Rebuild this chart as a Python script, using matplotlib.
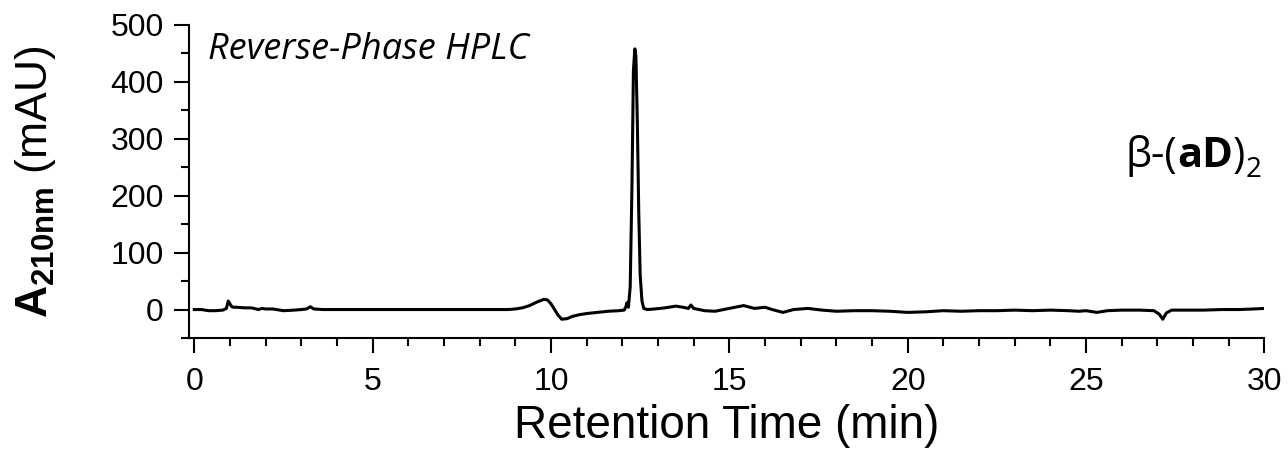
import matplotlib
matplotlib.use("Agg")
import matplotlib.pyplot as plt
from matplotlib.ticker import MultipleLocator
from matplotlib.transforms import offset_copy

plt.rcParams["mathtext.fontset"] = "custom"
plt.rcParams["mathtext.bf"] = "Liberation Sans:bold"
plt.rcParams["mathtext.rm"] = "Liberation Sans"
plt.rcParams["font.family"] = ["Liberation Sans", "DejaVu Sans"]

# chromatogram (time in min, absorbance in mAU)
time = [0.0, 0.2, 0.4, 0.6, 0.8, 0.9, 0.95, 1.0, 1.05, 1.1, 1.2, 1.4, 1.6, 1.8, 1.9,
        2.0, 2.2, 2.5, 2.8, 3.0, 3.15, 3.25, 3.35, 3.6, 4.0, 5.0, 6.0, 7.0, 8.0, 8.8,
        9.0, 9.2, 9.4, 9.6, 9.8, 9.9, 10.0, 10.1, 10.2, 10.3, 10.45, 10.6, 10.8, 11.0,
        11.3, 11.6, 11.9, 12.05, 12.1, 12.13, 12.17, 12.22, 12.27, 12.31, 12.35,
        12.38, 12.42, 12.46, 12.5, 12.55, 12.6, 12.7, 12.9, 13.2, 13.5, 13.7, 13.85,
        13.92, 14.0, 14.3, 14.6, 15.0, 15.4, 15.7, 16.0, 16.2, 16.5, 16.8, 17.2, 17.6,
        18.0, 18.5, 19.0, 19.5, 20.0, 20.5, 21.0, 21.5, 22.0, 22.5, 23.0, 23.5, 24.0,
        24.5, 24.8, 25.0, 25.3, 25.6, 26.0, 26.5, 26.9, 27.05, 27.15, 27.25, 27.4,
        27.8, 28.3, 28.8, 29.3, 29.7, 30.0]
absorb = [0, 0, -2, -2, -1, 2, 15, 10, 5, 4, 4, 3, 3, 0, 2,
          1, 1, -2, -1, 0, 1, 5, 1, 0, 0, 0, 0, 0, 0, 0,
          1, 3, 7, 13, 18, 17, 10, 0, -10, -17, -16, -12, -9, -7,
          -5, -3, -2, -1, 5, 12, 4, 40, 220, 420, 458,
          445, 330, 170, 60, 15, 2, 0, 1, 3, 6, 4, 2,
          8, 2, -2, -3, 2, 7, 2, 4, 0, -5, 0, 2, -1,
          -3, -2, -2, -3, -5, -4, -2, -3, -2, -2, -1, -2, -1,
          -2, -3, -2, -5, -2, -1, -1, -2, -8, -17, -6, -1,
          -1, -1, 0, 0, 1, 2]

fig = plt.figure(figsize=(12.88, 4.54), dpi=100)
ax = fig.add_axes([0.1467, 0.2555, 0.835, 0.6895])
ax.plot(time, absorb, color="black", lw=2.2, solid_joinstyle="round")

ax.set_xlim(-0.15, 30)
ax.set_ylim(-50, 500)
ax.xaxis.set_major_locator(MultipleLocator(5))
ax.xaxis.set_minor_locator(MultipleLocator(1))
ax.yaxis.set_major_locator(MultipleLocator(100))
ax.yaxis.set_minor_locator(MultipleLocator(50))
for sp in ("top", "right"):
    ax.spines[sp].set_visible(False)
for sp in ("left", "bottom"):
    ax.spines[sp].set_linewidth(1.5)
ax.tick_params(which="major", direction="out", length=11, width=1.5,
               labelsize=23, pad=7)
ax.tick_params(which="minor", direction="out", length=6, width=1.5)
ax.tick_params(axis="x", which="major", pad=10)

ax.set_xlabel("Retention Time (min)", fontsize=33, labelpad=5)
ax.set_ylabel(r"$\mathbf{A_{210nm}}$ (mAU)", fontsize=32, labelpad=38)

ax.text(0.0177, 0.891, "Reverse-Phase HPLC", transform=ax.transAxes, fontsize=26,
        style="italic", family="Open Sans", va="baseline", ha="left")

# compound label built piece by piece: β-( aD ) subscript 2, right edge at ~1263 px
fig.canvas.draw()
renderer = fig.canvas.get_renderer()
pieces = [("β-(", "normal", 30, 0), ("aD", "bold", 30, 0),
          (")", "normal", 30, 0), ("2", "normal", 20, -7)]
probe = []
for s, weight, size, dy in pieces:
    t = fig.text(0, 0, s, fontsize=size, weight=weight, family="Open Sans")
    probe.append(t.get_window_extent(renderer).width)
    t.remove()
total = sum(probe) * 72.0 / fig.dpi
dx = -total
for (s, weight, size, dy), w in zip(pieces, probe):
    tr = offset_copy(ax.transAxes, fig=fig, x=dx, y=dy, units="points")
    ax.text(0.997, 0.546, s, transform=tr, fontsize=size, weight=weight,
            family="Open Sans", va="baseline", ha="left")
    dx += w * 72.0 / fig.dpi

fig.savefig("out.png", dpi=100)
